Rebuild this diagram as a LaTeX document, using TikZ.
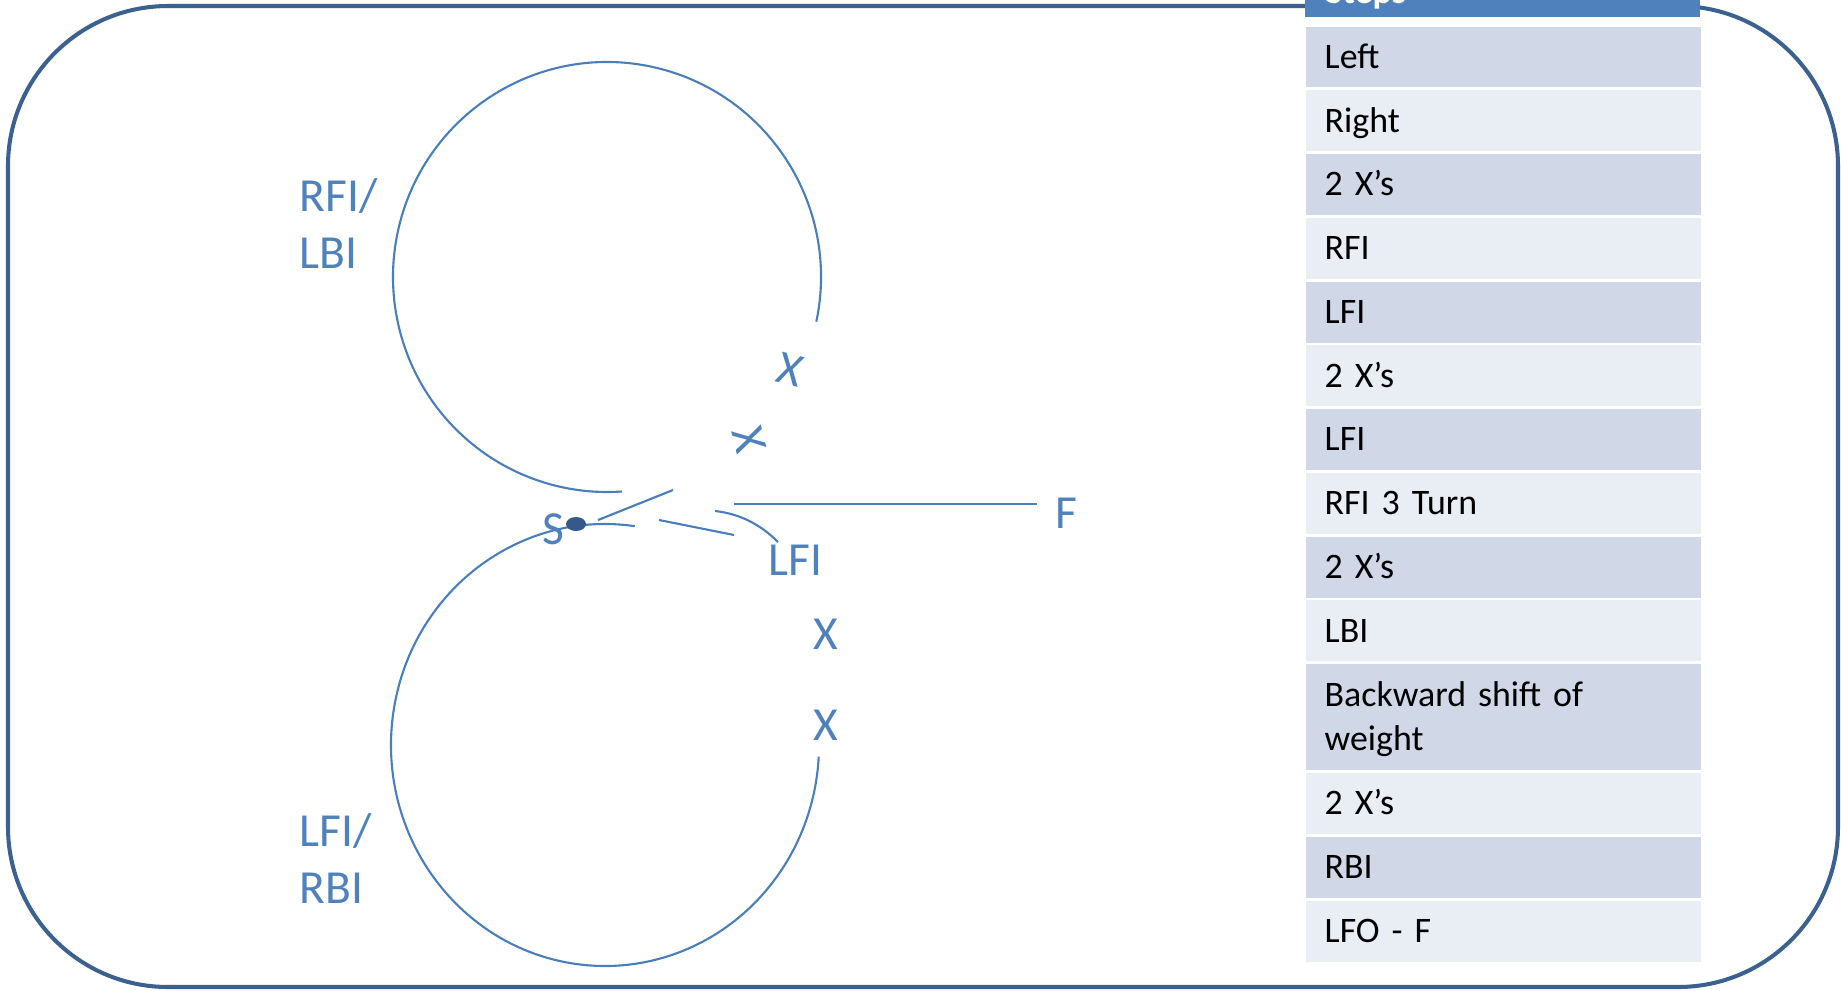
\documentclass[tikz,border=0pt]{standalone}
\usepackage{fontspec}
\setmainfont{Carlito}
\definecolor{framecol}{HTML}{3B6190}
\definecolor{tracecol}{HTML}{4A7EBB}
\definecolor{lblcol}{HTML}{4F81BD}
\definecolor{dotcol}{HTML}{34598A}
\definecolor{headcol}{HTML}{4F81BD}
\definecolor{rowdark}{HTML}{D0D8E8}
\definecolor{rowlight}{HTML}{E9EDF4}
\begin{document}
\begin{tikzpicture}[
  x=0.01cm, y=-0.01cm,
  frame/.style={draw=framecol, line width=1.15pt, rounded corners=1.6cm},
  trace/.style={draw=tracecol, line width=0.6pt},
  lbl/.style={text=lblcol, inner sep=0pt, align=left,
    font=\fontsize{13.5}{16}\selectfont},
  row/.style={
    anchor=north west,
    minimum width=3.95cm,
    minimum height=0.6075cm,
    text width=3.57cm,
    inner xsep=0.19cm,
    inner ysep=0pt,
    align=left,
    text height=6.4pt,
    text depth=0pt,
    font=\fontsize{10.2}{12.7}\selectfont
  },
  dark/.style={row, fill=rowdark},
  light/.style={row, fill=rowlight}
]
\useasboundingbox (0,0) rectangle (1841,990);

% outer frame
\draw[frame] (8,6) rectangle (1838,987);

% steps table
\fill[headcol] (1305,-30) rectangle (1700,17.3);
\node[anchor=base west, inner sep=0pt, text=white,
  font=\fontsize{10.2}{12}\selectfont\bfseries] (head) at (1325,3) {Steps};
\node[dark] (s1) at (1305,26) {Left};
\node[light] (s2) at (1305,89.75) {Right};
\node[dark] (s3) at (1305,153.5) {2 X’s};
\node[light] (s4) at (1305,217.25) {RFI};
\node[dark] (s5) at (1305,281) {LFI};
\node[light] (s6) at (1305,344.75) {2 X’s};
\node[dark] (s7) at (1305,408.5) {LFI};
\node[light] (s8) at (1305,472.25) {RFI 3 Turn};
\node[dark] (s9) at (1305,536) {2 X’s};
\node[light] (s10) at (1305,599.75) {LBI};
\node[dark, minimum height=1.06cm, text depth=12.7pt] (s11) at (1305,663.5)
  {Backward shift of\\weight};
\node[light] (s12) at (1305,772.5) {2 X’s};
\node[dark] (s13) at (1305,836.25) {RBI};
\node[light] (s14) at (1305,900) {LFO - F};

% upper and lower lobes
\draw[trace] (607,277) ++(12:214 and 215)
  arc[start angle=12, end angle=-274, x radius=214, y radius=215];
\draw[trace] (605,745) ++(-82:214 and 221)
  arc[start angle=-82, end angle=-357, x radius=214, y radius=221];

% strokes round the start
\draw[trace] (598,520) -- (673,490);
\draw[trace] (659,520) -- (734,535);
\draw[trace] (715,511) .. controls (742,514) and (762,526) .. (778,542);
\draw[trace] (734,504) -- (1037,504);
\fill[dotcol] (576,524) ellipse[x radius=10, y radius=7];

% labels
\node[lbl, anchor=base west] (rfilbi) at (299,268) {RFI/\\LBI};
\node[lbl, anchor=base west] (lfirbi) at (299,903) {LFI/\\RBI};
\node[lbl, anchor=base] (start) at (553,544) {S};
\node[lbl, anchor=base west] (lfi) at (768,575) {LFI};
\node[lbl, anchor=base west] (fin) at (1055,528) {F};
\node[lbl, rotate=-14] (xa) at (790,370) {X};
\node[lbl, rotate=-76] (xb) at (749,440) {X};
\node[lbl, anchor=base] (xc) at (826,649) {X};
\node[lbl, anchor=base] (xd) at (826,740) {X};
\end{tikzpicture}
\end{document}
